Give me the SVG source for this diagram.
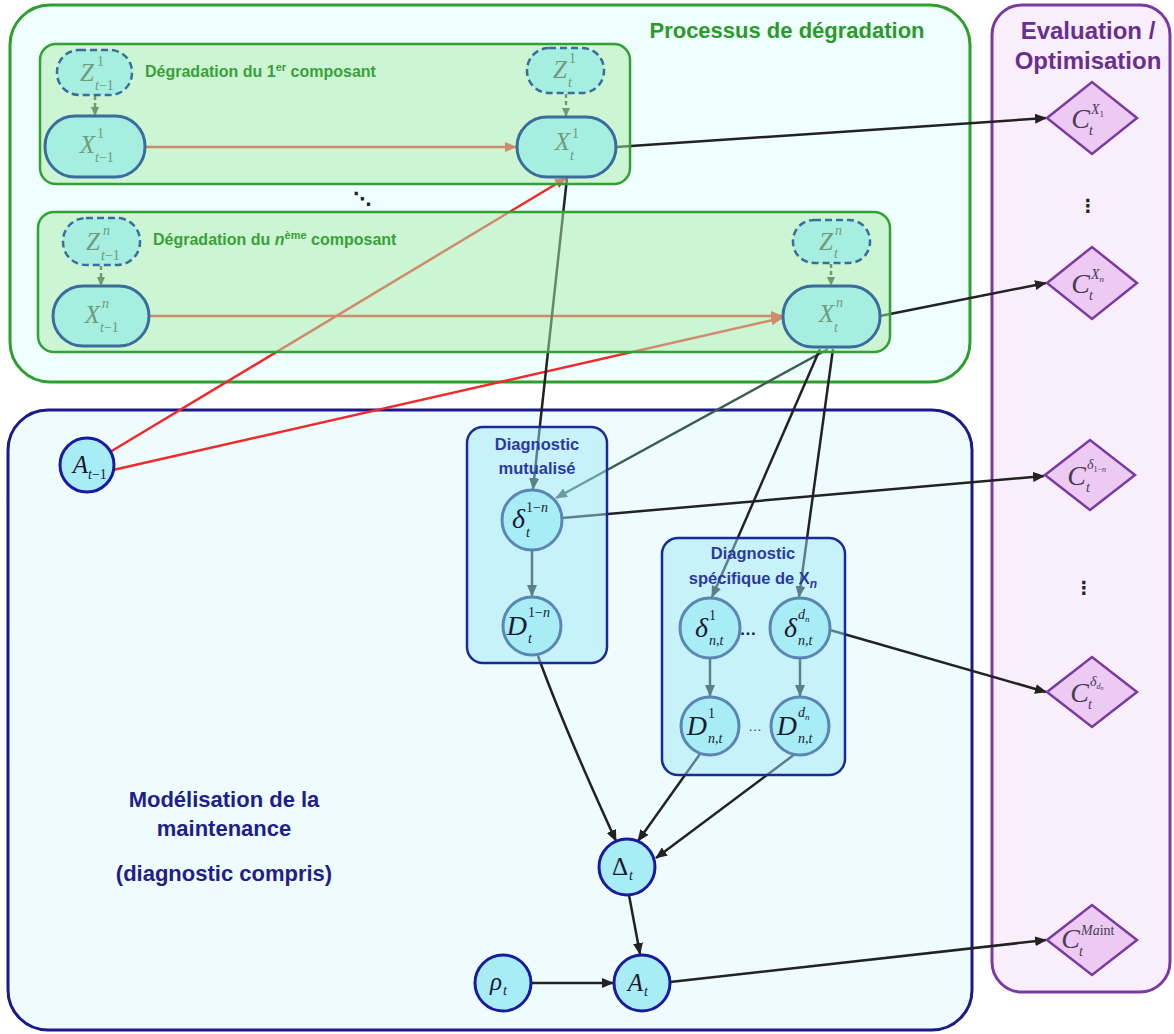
<svg xmlns="http://www.w3.org/2000/svg" width="1174" height="1034" viewBox="0 0 1174 1034">
<defs>
<marker id="ah" markerUnits="userSpaceOnUse" markerWidth="12" markerHeight="10" refX="11" refY="5" orient="auto"><path d="M0,0 L12,5 L0,10 z" fill="#222"/></marker>
<marker id="ahg" markerUnits="userSpaceOnUse" markerWidth="12" markerHeight="10" refX="11" refY="5" orient="auto"><path d="M0,0 L12,5 L0,10 z" fill="#3c5c50"/></marker>
<marker id="ahr" markerUnits="userSpaceOnUse" markerWidth="12" markerHeight="10" refX="11" refY="5" orient="auto"><path d="M0,0 L12,5 L0,10 z" fill="#f02a2a"/></marker>
<marker id="ahs" markerUnits="userSpaceOnUse" markerWidth="9" markerHeight="8" refX="8" refY="4" orient="auto"><path d="M0,0 L9,4 L0,8 z" fill="#2a4a2a"/></marker>
<style>
.og{fill:#effefe;stroke:#2e9e2e;stroke-width:3}
.ob{fill:#eefcfe;stroke:#1a1a88;stroke-width:3}
.op{fill:#f9eefc;stroke:#7a3aa0;stroke-width:3}
.comp{fill:#aaeca8;fill-opacity:0.51;stroke:#33a033;stroke-width:2.5}
.diag{fill:#9ee9f6;fill-opacity:0.48;stroke:#1a2a99;stroke-width:2.5}
.xn{fill:#a6eee0;stroke:#3a6c9c;stroke-width:3}
.zn{fill:#a6eee0;stroke:#3a6c9c;stroke-width:2.5;stroke-dasharray:7 4}
.cn{fill:#a8ecf6;stroke:#5a86b4;stroke-width:3}
.on{fill:#a8ecf6;stroke:#1a1aa0;stroke-width:3}
.dm{fill:#eccaf4;stroke:#7a3aa0;stroke-width:2.5}
.e{stroke:#222;stroke-width:2.5;fill:none;marker-end:url(#ah)}
.eg{stroke:#3c5c50;stroke-width:2.5;fill:none;marker-end:url(#ahg)}
.r{stroke:#f02a2a;stroke-width:2.5;fill:none;marker-end:url(#ahr)}
.d{stroke:#2a4a2a;stroke-width:2.5;stroke-dasharray:4 3;fill:none;marker-end:url(#ahs)}
.m{font-family:"Liberation Serif",serif;font-style:italic;font-size:25px}
.mc{font-family:"Liberation Serif",serif;font-style:italic;font-size:28px}
.s{font-family:"Liberation Serif",serif;font-style:italic;font-size:14px}
.u{font-style:normal}
.gx{fill:#6f9a7c}
.bx{fill:#1a1a30}
.px{fill:#4a3a55}
.tg{font-family:"Liberation Sans",sans-serif;font-weight:bold;fill:#2a9a2a}
.tc{font-family:"Liberation Sans",sans-serif;font-weight:bold;font-size:16px;fill:#3aa03a}
.tb{font-family:"Liberation Sans",sans-serif;font-weight:bold;font-size:22px;fill:#1e1e8c;text-anchor:middle}
.td{font-family:"Liberation Sans",sans-serif;font-weight:bold;font-size:16.5px;fill:#2a3aa0;text-anchor:middle}
.tp{font-family:"Liberation Sans",sans-serif;font-weight:bold;font-size:24px;fill:#6a2e8e;text-anchor:middle}
</style>
</defs>

<g id="containers">
<rect class="og" x="10" y="5" width="960" height="377" rx="40"/>
<rect class="ob" x="8" y="410" width="964" height="620" rx="40"/>
<rect class="op" x="992" y="5" width="178" height="987" rx="30"/>
<text class="tg" x="787" y="38" font-size="22" text-anchor="middle">Processus de dégradation</text>
<text class="tp" x="1088" y="39">Evaluation /</text>
<text class="tp" x="1088" y="69">Optimisation</text>
<text class="tb" x="224" y="807">Modélisation de la</text>
<text class="tb" x="224" y="836">maintenance</text>
<text class="tb" x="224" y="881">(diagnostic compris)</text>
</g>

<g id="connectors">
<line class="d" x1="95" y1="96" x2="95" y2="115"/>
<line class="d" x1="566" y1="94" x2="566" y2="116"/>
<line class="d" x1="101" y1="266" x2="101" y2="285"/>
<line class="d" x1="831" y1="264" x2="831" y2="285"/>
<line class="r" x1="145" y1="147" x2="516" y2="147"/>
<line class="r" x1="149" y1="316" x2="782" y2="316"/>
<line class="r" x1="110" y1="452" x2="566" y2="178"/>
<line class="r" x1="113" y1="470" x2="782" y2="318"/>
<line class="e" x1="616" y1="147" x2="1046" y2="118"/>
<line class="e" x1="880" y1="316" x2="1046" y2="283"/>
<line class="e" x1="567" y1="178" x2="533" y2="489"/>
<line class="eg" x1="828" y1="349" x2="556" y2="498"/>
<line class="e" x1="820" y1="349" x2="712" y2="597"/>
<line class="e" x1="833" y1="349" x2="799" y2="597"/>
<line class="e" x1="532" y1="551" x2="532" y2="596"/>
<line class="e" x1="710" y1="659" x2="710" y2="696"/>
<line class="e" x1="800" y1="659" x2="800" y2="696"/>
<line class="e" x1="562" y1="518" x2="1044" y2="476"/>
<line class="e" x1="830" y1="630" x2="1046" y2="692"/>
<path class="e" d="M538,656 Q565,730 616,841"/>
<line class="e" x1="700" y1="754" x2="638" y2="841"/>
<line class="e" x1="795" y1="754" x2="656" y2="858"/>
<line class="e" x1="629" y1="895" x2="640" y2="954"/>
<line class="e" x1="531" y1="983" x2="613" y2="983"/>
<line class="e" x1="670" y1="982" x2="1046" y2="940"/>
</g>

<g id="comp1">
<rect class="comp" x="40" y="44" width="590" height="140" rx="16"/>
<text class="tc" x="145" y="77">Dégradation du 1<tspan font-size="11" dy="-6">er</tspan><tspan dy="6"> composant</tspan></text>
</g>
<g id="compn">
<rect class="comp" x="38" y="212" width="852" height="140" rx="16"/>
<text class="tc" x="153" y="245">Dégradation du <tspan font-style="italic">n</tspan><tspan font-size="11" dy="-6">ème</tspan><tspan dy="6"> composant</tspan></text>
</g>
<text id="dots-comp" x="362" y="205" font-family="DejaVu Sans, sans-serif" font-weight="bold" font-size="18" fill="#222" text-anchor="middle">⋱</text>

<g id="diag-mut">
<rect class="diag" x="467" y="427" width="140" height="236" rx="16"/>
<text class="td" x="537" y="450">Diagnostic</text>
<text class="td" x="537" y="474">mutualisé</text>
</g>
<g id="diag-spec">
<rect class="diag" x="662" y="538" width="183" height="237" rx="16"/>
<text class="td" x="753" y="559">Diagnostic</text>
<text class="td" x="753" y="584">spécifique de X<tspan font-size="12" font-style="italic" dy="4">n</tspan></text>
</g>

<g id="Z1_tm1">
<rect class="zn" x="57" y="50" width="75" height="45" rx="22"/>
<text class="m gx" x="94" y="81" text-anchor="end">Z</text>
<text class="s gx u" x="97" y="66">1</text>
<text class="s gx" x="95" y="90">t<tspan class="u">−1</tspan></text>
</g>
<g id="X1_tm1">
<rect class="xn" x="45" y="116" width="100" height="61" rx="30"/>
<text class="m gx" x="95" y="153" text-anchor="end">X</text>
<text class="s gx u" x="97" y="138">1</text>
<text class="s gx" x="95" y="162">t<tspan class="u">−1</tspan></text>
</g>
<g id="Z1_t">
<rect class="zn" x="527" y="48" width="77" height="45" rx="22"/>
<text class="m gx" x="567" y="78" text-anchor="end">Z</text>
<text class="s gx u" x="569" y="63">1</text>
<text class="s gx" x="568" y="87">t</text>
</g>
<g id="X1_t">
<rect class="xn" x="517" y="117" width="99" height="60" rx="30"/>
<text class="m gx" x="570" y="150" text-anchor="end">X</text>
<text class="s gx u" x="572" y="138">1</text>
<text class="s gx" x="570" y="160">t</text>
</g>
<g id="Zn_tm1">
<rect class="zn" x="63" y="218" width="77" height="47" rx="23"/>
<text class="m gx" x="100" y="250" text-anchor="end">Z</text>
<text class="s gx" x="103" y="235">n</text>
<text class="s gx" x="101" y="260">t<tspan class="u">−1</tspan></text>
</g>
<g id="Xn_tm1">
<rect class="xn" x="53" y="286" width="96" height="60" rx="30"/>
<text class="m gx" x="100" y="323" text-anchor="end">X</text>
<text class="s gx" x="102" y="308">n</text>
<text class="s gx" x="100" y="332">t<tspan class="u">−1</tspan></text>
</g>
<g id="Zn_t">
<rect class="zn" x="793" y="220" width="77" height="43" rx="21"/>
<text class="m gx" x="833" y="250" text-anchor="end">Z</text>
<text class="s gx" x="835" y="235">n</text>
<text class="s gx" x="834" y="258">t</text>
</g>
<g id="Xn_t">
<rect class="xn" x="783" y="286" width="97" height="61" rx="30"/>
<text class="m gx" x="834" y="322" text-anchor="end">X</text>
<text class="s gx" x="836" y="307">n</text>
<text class="s gx" x="834" y="332">t</text>
</g>

<g id="A_tm1">
<circle class="on" cx="87" cy="465" r="27"/>
<text class="m bx" x="88" y="473" text-anchor="end">A</text>
<text class="s bx" x="88" y="479">t<tspan class="u">−1</tspan></text>
</g>
<g id="delta_1n">
<circle class="cn" cx="532" cy="520" r="30"/>
<text class="mc bx" x="525" y="528" text-anchor="end">δ</text>
<text class="s bx u" x="526" y="512">1−<tspan font-style="italic">n</tspan></text>
<text class="s bx" x="526" y="537">t</text>
</g>
<g id="D_1n">
<circle class="cn" cx="532" cy="626" r="29"/>
<text class="mc bx" x="527" y="635" text-anchor="end">D</text>
<text class="s bx u" x="528" y="617">1−<tspan font-style="italic">n</tspan></text>
<text class="s bx" x="528" y="643">t</text>
</g>
<g id="delta_n1">
<circle class="cn" cx="710" cy="628" r="30"/>
<text class="mc bx" x="708" y="637" text-anchor="end">δ</text>
<text class="s bx u" x="709" y="620">1</text>
<text class="s bx" x="709" y="645">n,t</text>
</g>
<text x="748" y="635" font-family="Liberation Sans, sans-serif" font-weight="bold" font-size="17" fill="#222" text-anchor="middle">…</text>
<g id="delta_ndn">
<circle class="cn" cx="800" cy="628" r="30"/>
<text class="mc bx" x="797" y="637" text-anchor="end">δ</text>
<text class="s bx" x="798" y="619">d<tspan font-size="9" dy="3">n</tspan></text>
<text class="s bx" x="798" y="645">n,t</text>
</g>
<g id="D_n1">
<circle class="cn" cx="710" cy="726" r="29"/>
<text class="mc bx" x="707" y="735" text-anchor="end">D</text>
<text class="s bx u" x="708" y="718">1</text>
<text class="s bx" x="708" y="743">n,t</text>
</g>
<text x="755" y="731" font-family="Liberation Sans, sans-serif" font-size="14" fill="#444" text-anchor="middle">…</text>
<g id="D_ndn">
<circle class="cn" cx="800" cy="726" r="29"/>
<text class="mc bx" x="797" y="735" text-anchor="end">D</text>
<text class="s bx" x="798" y="717">d<tspan font-size="9" dy="3">n</tspan></text>
<text class="s bx" x="798" y="743">n,t</text>
</g>
<g id="Delta_t">
<circle class="on" cx="627" cy="867" r="28"/>
<text class="m bx u" x="628" y="875" text-anchor="end">Δ</text>
<text class="s bx" x="629" y="880">t</text>
</g>
<g id="rho_t">
<circle class="on" cx="503" cy="983" r="28"/>
<text class="m bx" x="502" y="990" text-anchor="end">ρ</text>
<text class="s bx" x="503" y="995">t</text>
</g>
<g id="A_t">
<circle class="on" cx="642" cy="983" r="28"/>
<text class="m bx" x="643" y="991" text-anchor="end">A</text>
<text class="s bx" x="644" y="996">t</text>
</g>

<g id="C_X1">
<polygon class="dm" points="1047,118 1092,82 1137,118 1092,154"/>
<text class="mc px" x="1090" y="128" text-anchor="end">C</text>
<text class="s px" x="1091" y="114">X<tspan class="u" font-size="9" dy="3">1</tspan></text>
<text class="s px" x="1089" y="135" font-size="12">t</text>
</g>
<text x="1088" y="212" font-family="DejaVu Sans, sans-serif" font-weight="bold" font-size="18" fill="#222" text-anchor="middle">⋮</text>
<g id="C_Xn">
<polygon class="dm" points="1047,283 1092,247 1137,283 1092,319"/>
<text class="mc px" x="1090" y="293" text-anchor="end">C</text>
<text class="s px" x="1091" y="279">X<tspan font-size="9" dy="3">n</tspan></text>
<text class="s px" x="1089" y="300" font-size="12">t</text>
</g>
<g id="C_delta1n">
<polygon class="dm" points="1045,475 1090,440 1135,475 1090,510"/>
<text class="mc px" x="1086" y="485" text-anchor="end">C</text>
<text class="s px" x="1087" y="469">δ<tspan class="u" font-size="8" dy="3">1−</tspan><tspan font-size="8">n</tspan></text>
<text class="s px" x="1086" y="492" font-size="12">t</text>
</g>
<text x="1084" y="594" font-family="DejaVu Sans, sans-serif" font-weight="bold" font-size="18" fill="#222" text-anchor="middle">⋮</text>
<g id="C_deltadn">
<polygon class="dm" points="1047,692 1092,657 1137,692 1092,727"/>
<text class="mc px" x="1089" y="702" text-anchor="end">C</text>
<text class="s px" x="1090" y="686">δ<tspan font-size="8" dy="3">d</tspan><tspan font-size="6" dy="1">n</tspan></text>
<text class="s px" x="1088" y="709" font-size="12">t</text>
</g>
<g id="C_Maint">
<polygon class="dm" points="1047,940 1092,905 1137,940 1092,975"/>
<text class="mc px" x="1080" y="948" text-anchor="end">C</text>
<text class="s px" x="1081" y="935" font-size="15">Ma<tspan class="u">int</tspan></text>
<text class="s px" x="1079" y="956" font-size="12">t</text>
</g>
</svg>
